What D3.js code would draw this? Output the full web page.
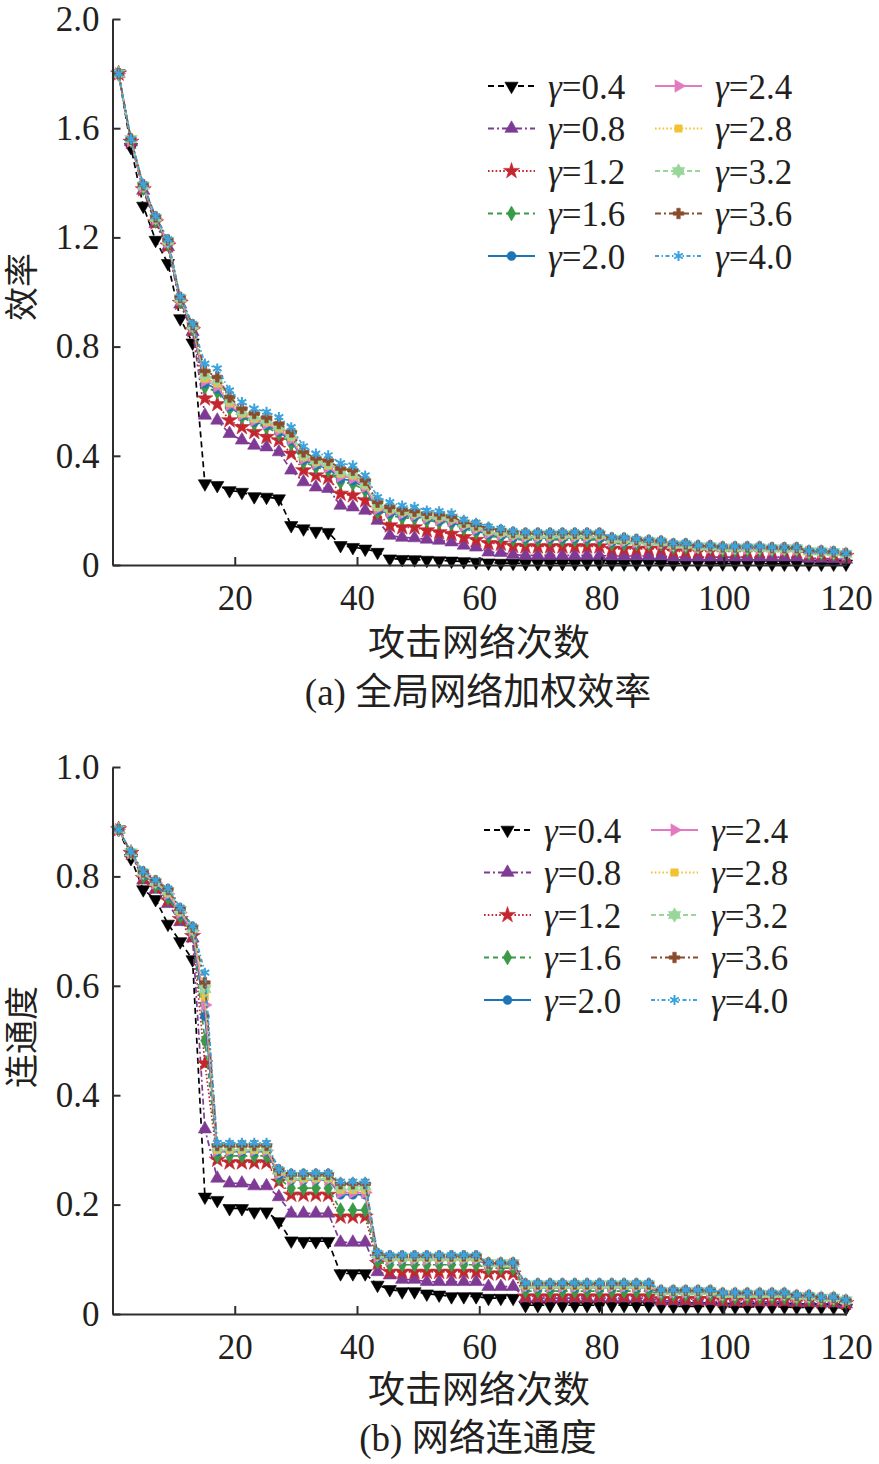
<!DOCTYPE html>
<html>
<head>
<meta charset="utf-8">
<script src="https://cdn.jsdelivr.net/npm/d3@7"></script>
<style>
  body { margin: 0; background: #fff; }
  text { font-family: "Liberation Serif", "Times New Roman", "Noto Sans CJK SC", serif; fill: #231f20; }
  .tick-label { font-size: 35px; }
  .legend-label { font-size: 35px; }
  .axis-title { font-size: 37px; }
  .y-title { font-size: 34px; }
</style>
</head>
<body>
<svg id="chart" width="879" height="1464"></svg>
<script>
// ---- data (60 attack steps, 1..120) ----
const attackX = [1, 3.02, 5.03, 7.05, 9.07, 11.08, 13.10, 15.12, 17.14, 19.15,
  21.17, 23.19, 25.20, 27.22, 29.24, 31.25, 33.27, 35.29, 37.31, 39.32,
  41.34, 43.36, 45.37, 47.39, 49.41, 51.42, 53.44, 55.46, 57.47, 59.49,
  61.51, 63.53, 65.54, 67.56, 69.58, 71.59, 73.61, 75.63, 77.64, 79.66,
  81.68, 83.69, 85.71, 87.73, 89.75, 91.76, 93.78, 95.80, 97.81, 99.83,
  101.85, 103.86, 105.88, 107.90, 109.92, 111.93, 113.95, 115.97, 117.98, 120];

const gammaNames = ['0.4', '0.8', '1.2', '1.6', '2.0', '2.4', '2.8', '3.2', '3.6', '4.0'];

// (a) global weighted efficiency
const effG04 = [1.80, 1.53, 1.315, 1.19, 1.105, 0.903, 0.814, 0.298, 0.292, 0.273,
  0.267, 0.251, 0.249, 0.243, 0.145, 0.133, 0.124, 0.120, 0.072, 0.065,
  0.059, 0.047, 0.023, 0.021, 0.020, 0.018, 0.016, 0.015, 0.013, 0.011,
  0.008, 0.007, 0.007, 0.006, 0.006, 0.006, 0.006, 0.006, 0.006, 0.006,
  0.005, 0.005, 0.005, 0.005, 0.005, 0.005, 0.005, 0.005, 0.005, 0.005,
  0.005, 0.005, 0.005, 0.004, 0.004, 0.004, 0.004, 0.004, 0.004, 0.004];
const effG08 = [1.80, 1.55, 1.372, 1.25, 1.165, 0.955, 0.855, 0.548, 0.530, 0.481,
  0.457, 0.438, 0.432, 0.414, 0.347, 0.304, 0.285, 0.280, 0.218, 0.212,
  0.200, 0.163, 0.108, 0.101, 0.099, 0.094, 0.090, 0.084, 0.072, 0.065,
  0.047, 0.045, 0.038, 0.035, 0.035, 0.035, 0.035, 0.035, 0.035, 0.035,
  0.033, 0.033, 0.033, 0.033, 0.033, 0.029, 0.029, 0.029, 0.029, 0.029,
  0.029, 0.029, 0.029, 0.029, 0.029, 0.029, 0.024, 0.024, 0.023, 0.020];
const effG12 = [1.80, 1.55, 1.376, 1.255, 1.17, 0.96, 0.86, 0.61, 0.589, 0.53,
  0.505, 0.487, 0.469, 0.457, 0.408, 0.347, 0.328, 0.32, 0.261, 0.255,
  0.237, 0.188, 0.145, 0.138, 0.138, 0.127, 0.12, 0.114, 0.102, 0.092,
  0.08, 0.078, 0.07, 0.068, 0.068, 0.068, 0.068, 0.068, 0.068, 0.068,
  0.059, 0.059, 0.059, 0.059, 0.059, 0.05, 0.05, 0.05, 0.05, 0.05,
  0.05, 0.05, 0.05, 0.05, 0.05, 0.05, 0.04, 0.04, 0.038, 0.033];
const effG16 = [1.80, 1.555, 1.38, 1.26, 1.175, 0.965, 0.865, 0.652, 0.634, 0.573,
  0.542, 0.518, 0.505, 0.481, 0.445, 0.377, 0.359, 0.347, 0.304, 0.298,
  0.273, 0.194, 0.182, 0.173, 0.171, 0.163, 0.157, 0.151, 0.134, 0.12,
  0.105, 0.102, 0.094, 0.092, 0.092, 0.092, 0.092, 0.092, 0.092, 0.092,
  0.078, 0.078, 0.078, 0.078, 0.078, 0.066, 0.066, 0.066, 0.066, 0.056,
  0.056, 0.056, 0.056, 0.056, 0.056, 0.056, 0.044, 0.044, 0.042, 0.036];
const effG20 = [1.80, 1.555, 1.384, 1.265, 1.18, 0.97, 0.87, 0.665, 0.645, 0.58,
  0.547, 0.524, 0.512, 0.488, 0.455, 0.385, 0.366, 0.354, 0.315, 0.309,
  0.281, 0.20, 0.19, 0.181, 0.177, 0.169, 0.162, 0.156, 0.139, 0.126,
  0.111, 0.107, 0.10, 0.098, 0.098, 0.098, 0.098, 0.098, 0.098, 0.098,
  0.084, 0.083, 0.081, 0.079, 0.078, 0.069, 0.069, 0.062, 0.062, 0.058,
  0.058, 0.058, 0.058, 0.055, 0.055, 0.055, 0.046, 0.046, 0.044, 0.038];
const effG24 = [1.80, 1.555, 1.386, 1.268, 1.183, 0.973, 0.873, 0.675, 0.655, 0.587,
  0.551, 0.53, 0.518, 0.494, 0.462, 0.39, 0.372, 0.36, 0.325, 0.318,
  0.287, 0.206, 0.196, 0.188, 0.183, 0.174, 0.167, 0.162, 0.144, 0.132,
  0.117, 0.112, 0.105, 0.103, 0.103, 0.103, 0.103, 0.103, 0.103, 0.103,
  0.088, 0.087, 0.084, 0.082, 0.08, 0.071, 0.071, 0.064, 0.064, 0.06,
  0.06, 0.06, 0.06, 0.057, 0.057, 0.057, 0.047, 0.047, 0.045, 0.039];
const effG28 = [1.80, 1.56, 1.388, 1.27, 1.185, 0.975, 0.875, 0.683, 0.665, 0.594,
  0.555, 0.536, 0.524, 0.50, 0.469, 0.396, 0.377, 0.365, 0.335, 0.328,
  0.292, 0.212, 0.203, 0.195, 0.188, 0.178, 0.175, 0.17, 0.149, 0.139,
  0.124, 0.118, 0.111, 0.108, 0.108, 0.108, 0.108, 0.108, 0.108, 0.108,
  0.092, 0.091, 0.087, 0.085, 0.083, 0.073, 0.073, 0.066, 0.066, 0.062,
  0.062, 0.062, 0.062, 0.059, 0.059, 0.059, 0.048, 0.048, 0.046, 0.04];
const effG32 = [1.80, 1.56, 1.39, 1.272, 1.187, 0.977, 0.877, 0.697, 0.678, 0.604,
  0.564, 0.545, 0.532, 0.509, 0.478, 0.405, 0.383, 0.374, 0.344, 0.337,
  0.301, 0.221, 0.208, 0.199, 0.192, 0.183, 0.18, 0.174, 0.153, 0.143,
  0.129, 0.122, 0.115, 0.112, 0.112, 0.112, 0.112, 0.112, 0.112, 0.112,
  0.096, 0.095, 0.09, 0.087, 0.085, 0.075, 0.075, 0.068, 0.068, 0.064,
  0.064, 0.064, 0.064, 0.061, 0.061, 0.061, 0.05, 0.05, 0.047, 0.041];
const effG36 = [1.80, 1.56, 1.392, 1.275, 1.19, 0.98, 0.88, 0.711, 0.689, 0.615,
  0.573, 0.555, 0.54, 0.518, 0.487, 0.414, 0.39, 0.383, 0.353, 0.347,
  0.31, 0.23, 0.212, 0.202, 0.197, 0.188, 0.185, 0.178, 0.157, 0.147,
  0.134, 0.127, 0.119, 0.116, 0.116, 0.116, 0.116, 0.116, 0.116, 0.116,
  0.099, 0.098, 0.093, 0.09, 0.087, 0.077, 0.077, 0.07, 0.07, 0.066,
  0.066, 0.066, 0.066, 0.063, 0.063, 0.063, 0.051, 0.051, 0.048, 0.042];
const effG40 = [1.80, 1.56, 1.395, 1.278, 1.193, 0.983, 0.883, 0.738, 0.72, 0.64,
  0.597, 0.573, 0.561, 0.542, 0.505, 0.435, 0.408, 0.402, 0.373, 0.365,
  0.328, 0.249, 0.23, 0.218, 0.213, 0.20, 0.197, 0.19, 0.166, 0.155,
  0.141, 0.133, 0.124, 0.12, 0.12, 0.12, 0.12, 0.12, 0.12, 0.12,
  0.102, 0.101, 0.096, 0.093, 0.09, 0.08, 0.08, 0.072, 0.072, 0.068,
  0.068, 0.068, 0.068, 0.065, 0.065, 0.065, 0.053, 0.053, 0.05, 0.043];

// (b) network connectivity
const conG04 = [0.886, 0.833, 0.776, 0.758, 0.713, 0.681, 0.648, 0.214, 0.208, 0.193,
  0.193, 0.187, 0.187, 0.169, 0.134, 0.133, 0.133, 0.133, 0.074, 0.074,
  0.074, 0.053, 0.045, 0.041, 0.041, 0.037, 0.035, 0.032, 0.032, 0.032,
  0.029, 0.029, 0.029, 0.016, 0.016, 0.016, 0.016, 0.016, 0.016, 0.016,
  0.016, 0.016, 0.016, 0.016, 0.014, 0.014, 0.014, 0.014, 0.014, 0.013,
  0.013, 0.013, 0.013, 0.013, 0.013, 0.012, 0.012, 0.012, 0.012, 0.011];
const conG08 = [0.886, 0.843, 0.793, 0.776, 0.75, 0.717, 0.687, 0.338, 0.248, 0.239,
  0.239, 0.234, 0.234, 0.214, 0.184, 0.184, 0.184, 0.184, 0.131, 0.131,
  0.131, 0.077, 0.071, 0.063, 0.063, 0.059, 0.059, 0.059, 0.059, 0.059,
  0.05, 0.05, 0.05, 0.029, 0.029, 0.029, 0.029, 0.029, 0.029, 0.029,
  0.029, 0.029, 0.029, 0.029, 0.024, 0.024, 0.024, 0.024, 0.024, 0.022,
  0.022, 0.022, 0.022, 0.022, 0.022, 0.021, 0.021, 0.02, 0.02, 0.018];
const conG12 = [0.886, 0.843, 0.797, 0.78, 0.756, 0.722, 0.691, 0.458, 0.282, 0.277,
  0.277, 0.277, 0.277, 0.242, 0.218, 0.218, 0.218, 0.218, 0.178, 0.178,
  0.178, 0.093, 0.077, 0.077, 0.077, 0.077, 0.077, 0.077, 0.077, 0.077,
  0.074, 0.074, 0.074, 0.032, 0.032, 0.032, 0.032, 0.032, 0.032, 0.032,
  0.032, 0.032, 0.032, 0.032, 0.027, 0.027, 0.027, 0.027, 0.027, 0.025,
  0.025, 0.025, 0.025, 0.025, 0.025, 0.024, 0.024, 0.023, 0.023, 0.02];
const conG16 = [0.886, 0.843, 0.80, 0.783, 0.761, 0.727, 0.695, 0.50, 0.289, 0.289,
  0.289, 0.289, 0.289, 0.248, 0.23, 0.23, 0.23, 0.23, 0.19, 0.19,
  0.19, 0.096, 0.09, 0.09, 0.09, 0.09, 0.09, 0.09, 0.09, 0.09,
  0.084, 0.084, 0.084, 0.042, 0.042, 0.042, 0.042, 0.042, 0.042, 0.042,
  0.042, 0.042, 0.042, 0.042, 0.036, 0.036, 0.036, 0.036, 0.036, 0.031,
  0.031, 0.031, 0.031, 0.031, 0.031, 0.028, 0.028, 0.026, 0.026, 0.022];
const conG20 = [0.886, 0.843, 0.803, 0.786, 0.765, 0.731, 0.698, 0.544, 0.297, 0.297,
  0.297, 0.297, 0.297, 0.254, 0.245, 0.245, 0.245, 0.245, 0.218, 0.218,
  0.218, 0.103, 0.099, 0.099, 0.099, 0.099, 0.099, 0.099, 0.099, 0.099,
  0.09, 0.09, 0.09, 0.048, 0.048, 0.048, 0.048, 0.048, 0.048, 0.048,
  0.048, 0.048, 0.048, 0.048, 0.038, 0.038, 0.038, 0.038, 0.038, 0.034,
  0.034, 0.034, 0.034, 0.034, 0.034, 0.03, 0.03, 0.027, 0.027, 0.023];
const conG24 = [0.886, 0.843, 0.805, 0.788, 0.768, 0.734, 0.701, 0.565, 0.299, 0.299,
  0.299, 0.299, 0.299, 0.257, 0.246, 0.246, 0.246, 0.246, 0.222, 0.222,
  0.222, 0.105, 0.10, 0.10, 0.10, 0.10, 0.10, 0.10, 0.10, 0.10,
  0.091, 0.091, 0.091, 0.05, 0.05, 0.05, 0.05, 0.05, 0.05, 0.05,
  0.05, 0.05, 0.05, 0.05, 0.04, 0.04, 0.04, 0.04, 0.04, 0.035,
  0.035, 0.035, 0.035, 0.035, 0.035, 0.031, 0.031, 0.028, 0.028, 0.024];
const conG28 = [0.886, 0.843, 0.806, 0.789, 0.77, 0.736, 0.703, 0.58, 0.30, 0.30,
  0.30, 0.30, 0.30, 0.26, 0.248, 0.248, 0.248, 0.248, 0.227, 0.227,
  0.227, 0.108, 0.102, 0.102, 0.102, 0.102, 0.102, 0.102, 0.102, 0.102,
  0.092, 0.092, 0.092, 0.052, 0.052, 0.052, 0.052, 0.052, 0.052, 0.052,
  0.052, 0.052, 0.052, 0.052, 0.041, 0.041, 0.041, 0.041, 0.041, 0.036,
  0.036, 0.036, 0.036, 0.036, 0.036, 0.032, 0.032, 0.029, 0.029, 0.024];
const conG32 = [0.886, 0.844, 0.807, 0.79, 0.773, 0.739, 0.705, 0.594, 0.305, 0.305,
  0.305, 0.305, 0.305, 0.262, 0.252, 0.252, 0.252, 0.252, 0.233, 0.233,
  0.233, 0.109, 0.104, 0.104, 0.104, 0.104, 0.104, 0.104, 0.104, 0.104,
  0.093, 0.093, 0.093, 0.054, 0.054, 0.054, 0.054, 0.054, 0.054, 0.054,
  0.054, 0.054, 0.054, 0.054, 0.042, 0.042, 0.042, 0.042, 0.042, 0.037,
  0.037, 0.037, 0.037, 0.037, 0.037, 0.033, 0.033, 0.03, 0.03, 0.025];
const conG36 = [0.886, 0.844, 0.808, 0.792, 0.776, 0.741, 0.707, 0.606, 0.308, 0.308,
  0.308, 0.308, 0.308, 0.263, 0.255, 0.255, 0.255, 0.255, 0.238, 0.238,
  0.238, 0.11, 0.106, 0.106, 0.106, 0.106, 0.106, 0.106, 0.106, 0.106,
  0.093, 0.093, 0.093, 0.055, 0.055, 0.055, 0.055, 0.055, 0.055, 0.055,
  0.055, 0.055, 0.055, 0.055, 0.043, 0.043, 0.043, 0.043, 0.043, 0.038,
  0.038, 0.038, 0.038, 0.038, 0.038, 0.034, 0.034, 0.03, 0.03, 0.025];
const conG40 = [0.886, 0.845, 0.809, 0.793, 0.778, 0.743, 0.709, 0.624, 0.313, 0.313,
  0.313, 0.313, 0.313, 0.265, 0.258, 0.258, 0.258, 0.258, 0.242, 0.242,
  0.242, 0.112, 0.108, 0.108, 0.108, 0.108, 0.108, 0.108, 0.108, 0.108,
  0.094, 0.094, 0.094, 0.057, 0.057, 0.057, 0.057, 0.057, 0.057, 0.057,
  0.057, 0.057, 0.057, 0.057, 0.044, 0.044, 0.044, 0.044, 0.044, 0.039,
  0.039, 0.039, 0.039, 0.039, 0.039, 0.035, 0.035, 0.031, 0.031, 0.026];

const xTicks = [20, 40, 60, 80, 100, 120];
const effTicks = [0, 0.4, 0.8, 1.2, 1.6, 2.0];
const effTickLabels = ['0', '0.4', '0.8', '1.2', '1.6', '2.0'];
const conTicks = [0, 0.2, 0.4, 0.6, 0.8, 1.0];
const conTickLabels = ['0', '0.2', '0.4', '0.6', '0.8', '1.0'];

// ---- styles ----
const lineColors = ['#000000', '#7e3a94', '#c3262e', '#3b9a47', '#1f74b6',
                    '#e37ac1', '#f1c232', '#9ad69b', '#8b4b2d', '#3ba3dd'];
const lineDashes = ['6,4', '6,3,2,3', '1.6,2.2', '5,4', null,
                    null, '1.6,2.2', '5,3', '6,3,2,3', '4,2.5,1.5,2.5'];
const markerKinds = ['down', 'up', 'star', 'diamond', 'circle',
                     'right', 'square', 'hexagram', 'cross', 'asterisk'];

// two overlapping triangles
const symbolHexagram = {
  draw(ctx, size) {
    const r = Math.sqrt(size / 1.3);
    [-Math.PI / 2, Math.PI / 2].forEach(a0 => {
      for (let i = 0; i < 3; i++) {
        const a = a0 + i * 2 * Math.PI / 3;
        if (i === 0) ctx.moveTo(r * Math.cos(a), r * Math.sin(a));
        else ctx.lineTo(r * Math.cos(a), r * Math.sin(a));
      }
      ctx.closePath();
    });
  }
};

const markerShapes = {
  down:     { type: d3.symbolTriangle, size: 76, rotate: 180 },
  up:       { type: d3.symbolTriangle, size: 76, rotate: 0 },
  star:     { type: d3.symbolStar,     size: 80, rotate: 0 },
  diamond:  { type: d3.symbolDiamond,  size: 64, rotate: 0 },
  circle:   { type: d3.symbolCircle,   size: 62, rotate: 0 },
  right:    { type: d3.symbolTriangle, size: 66, rotate: 90 },
  square:   { type: d3.symbolSquare,   size: 54, rotate: 0 },
  hexagram: { type: symbolHexagram,    size: 68, rotate: 0 },
  cross:    { type: d3.symbolCross,    size: 62, rotate: 0 },
  asterisk: { type: d3.symbolAsterisk, size: 70, rotate: 0, stroked: true }
};

const svg = d3.select('#chart');
const xScale = d3.scaleLinear().domain([0, 120]).range([112.5, 846]);

function styleMarkers(sel, kind, color) {
  const m = markerShapes[kind];
  sel.attr('d', d3.symbol().type(m.type).size(m.size)());
  if (m.stroked) {
    sel.attr('fill', 'none').attr('stroke', color).attr('stroke-width', 2);
  } else {
    sel.attr('fill', color).attr('stroke', color).attr('stroke-width', 0.6);
  }
}

function drawPanel(p) {
  const y = d3.scaleLinear().domain([0, p.yMax]).range([p.bottom, p.top]);
  const g = svg.append('g');

  // series, first gamma drawn first so 4.0 lands on top
  const line = d3.line().x((d, i) => xScale(attackX[i])).y(d => y(d));
  p.series.forEach((vals, s) => {
    const sg = g.append('g');
    sg.append('path')
      .attr('d', line(vals))
      .attr('fill', 'none')
      .attr('stroke', lineColors[s])
      .attr('stroke-width', 1.7)
      .attr('stroke-dasharray', lineDashes[s]);
    const rot = markerShapes[markerKinds[s]].rotate;
    sg.selectAll('path.mk').data(vals).join('path')
      .attr('class', 'mk')
      .attr('transform', (d, i) => `translate(${xScale(attackX[i])},${y(d)}) rotate(${rot})`)
      .call(styleMarkers, markerKinds[s], lineColors[s]);
  });

  // axes: left and bottom only, ticks pointing inward
  const xAxis = d3.axisBottom(xScale).tickValues(xTicks)
    .tickSizeInner(-8).tickSizeOuter(0).tickPadding(20);
  const yAxis = d3.axisLeft(y).tickValues(p.ticks)
    .tickFormat((d, i) => p.tickLabels[i])
    .tickSizeInner(-8).tickSizeOuter(0).tickPadding(13);

  [[xAxis, `translate(0,${p.bottom})`], [yAxis, `translate(${xScale(0)},0)`]].forEach(([ax, tr]) => {
    const a = g.append('g').attr('transform', tr).call(ax)
      .attr('font-size', null).attr('font-family', null);
    a.selectAll('path, line').attr('stroke', '#2e2e2e').attr('stroke-width', 2);
    a.selectAll('text').attr('class', 'tick-label').attr('fill', null);
  });

  // legend: two columns of five
  const leg = g.append('g');
  gammaNames.forEach((name, s) => {
    const col = Math.floor(s / 5), row = s % 5;
    const lx = p.legendX[col], ly = p.legendY + row * 42.5;
    leg.append('line')
      .attr('x1', lx).attr('x2', lx + 47).attr('y1', ly).attr('y2', ly)
      .attr('stroke', lineColors[s]).attr('stroke-width', 1.8)
      .attr('stroke-dasharray', lineDashes[s]);
    leg.append('path')
      .attr('transform', `translate(${lx + 23.5},${ly}) rotate(${markerShapes[markerKinds[s]].rotate})`)
      .call(styleMarkers, markerKinds[s], lineColors[s]);
    const t = leg.append('text').attr('class', 'legend-label')
      .attr('x', lx + 60).attr('y', ly).attr('dy', '0.36em');
    t.append('tspan').attr('font-style', 'italic').text('γ');
    t.append('tspan').text('=' + name);
  });

  // titles
  g.append('text').attr('class', 'y-title')
    .attr('transform', `translate(22,${p.yTitleY}) rotate(-90)`)
    .attr('text-anchor', 'middle').attr('dominant-baseline', 'central')
    .text(p.yTitle);
  g.append('text').attr('class', 'axis-title')
    .attr('x', 479).attr('y', p.xTitleY)
    .attr('text-anchor', 'middle').attr('dominant-baseline', 'central')
    .text('攻击网络次数');
  g.append('text').attr('class', 'axis-title')
    .attr('x', 478).attr('y', p.captionY)
    .attr('text-anchor', 'middle').attr('dominant-baseline', 'central')
    .text(p.caption);
}

drawPanel({
  top: 19, bottom: 565, yMax: 2.0,
  ticks: effTicks, tickLabels: effTickLabels,
  series: [effG04, effG08, effG12, effG16, effG20, effG24, effG28, effG32, effG36, effG40],
  yTitle: '效率', yTitleY: 287, xTitleY: 643,
  caption: '(a) 全局网络加权效率', captionY: 692,
  legendX: [488, 655], legendY: 86
});

drawPanel({
  top: 767, bottom: 1314, yMax: 1.0,
  ticks: conTicks, tickLabels: conTickLabels,
  series: [conG04, conG08, conG12, conG16, conG20, conG24, conG28, conG32, conG36, conG40],
  yTitle: '连通度', yTitleY: 1037, xTitleY: 1390,
  caption: '(b) 网络连通度', captionY: 1438,
  legendX: [484, 651], legendY: 830
});
</script>
</body>
</html>
